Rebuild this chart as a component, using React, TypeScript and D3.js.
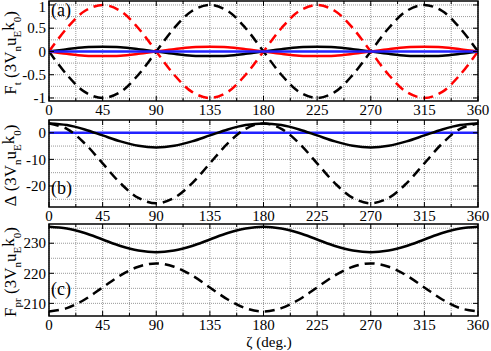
import React from "react";
import * as d3 from "d3";

const zeta = [0, 15, 30, 45, 60, 75, 90, 105, 120, 135, 150, 165, 180, 195, 210, 225, 240, 255, 270, 285, 300, 315, 330, 345, 360];

// Panel (a)
const aRedDashed = [0, 0.5, 0.87, 1, 0.87, 0.5, 0, -0.5, -0.87, -1, -0.87, -0.5, 0, 0.5, 0.87, 1, 0.87, 0.5, 0, -0.5, -0.87, -1, -0.87, -0.5, 0];
const aBlackDashed = [0, -0.5, -0.87, -1, -0.87, -0.5, 0, 0.5, 0.87, 1, 0.87, 0.5, 0, -0.5, -0.87, -1, -0.87, -0.5, 0, 0.5, 0.87, 1, 0.87, 0.5, 0];
const aBlackSolid = [0, 0.05, 0.09, 0.1, 0.09, 0.05, 0, -0.05, -0.09, -0.1, -0.09, -0.05, 0, 0.05, 0.09, 0.1, 0.09, 0.05, 0, -0.05, -0.09, -0.1, -0.09, -0.05, 0];
const aRedSolid = [0, -0.05, -0.09, -0.1, -0.09, -0.05, 0, 0.05, 0.09, 0.1, 0.09, 0.05, 0, -0.05, -0.09, -0.1, -0.09, -0.05, 0, 0.05, 0.09, 0.1, 0.09, 0.05, 0];
const aBlue = [0, 0, 0, 0, 0, 0, 0, 0, 0, 0, 0, 0, 0, 0, 0, 0, 0, 0, 0, 0, 0, 0, 0, 0, 0];

// Panel (b)
const bSolid = [3.5, 2.9, 1.25, -1, -3.25, -4.9, -5.5, -4.9, -3.25, -1, 1.25, 2.9, 3.5, 2.9, 1.25, -1, -3.25, -4.9, -5.5, -4.9, -3.25, -1, 1.25, 2.9, 3.5];
const bDashed = [3.5, 1.5, -4, -11.5, -19, -24.5, -26.5, -24.5, -19, -11.5, -4, 1.5, 3.5, 1.5, -4, -11.5, -19, -24.5, -26.5, -24.5, -19, -11.5, -4, 1.5, 3.5];
const bBlue = [0, 0, 0, 0, 0, 0, 0, 0, 0, 0, 0, 0, 0, 0, 0, 0, 0, 0, 0, 0, 0, 0, 0, 0, 0];

// Panel (c)
const cSolid = [235.5, 234.9, 233.4, 231.25, 229.1, 227.6, 227, 227.6, 229.1, 231.25, 233.4, 234.9, 235.5, 234.9, 233.4, 231.25, 229.1, 227.6, 227, 227.6, 229.1, 231.25, 233.4, 234.9, 235.5];
const cDashed = [207.3, 208.4, 211.3, 215.3, 219.3, 222.2, 223.3, 222.2, 219.3, 215.3, 211.3, 208.4, 207.3, 208.4, 211.3, 215.3, 219.3, 222.2, 223.3, 222.2, 219.3, 215.3, 211.3, 208.4, 207.3];

const xTicks = [0, 45, 90, 135, 180, 225, 270, 315, 360];
const xMinor = [22.5, 67.5, 112.5, 157.5, 202.5, 247.5, 292.5, 337.5];
const aTicks = [-1, -0.5, 0, 0.5, 1];
const aTickLabels = ["-1", "-0.5", "0", "0.5", "1"];
const aGrid = [-1, -0.75, -0.5, -0.25, 0, 0.25, 0.5, 0.75, 1];
const bTicks = [-20, -10, 0];
const bTickLabels = ["-20", "-10", "0"];
const bGrid = [-25, -20, -15, -10, -5, 0];
const cTicks = [210, 220, 230];
const cTickLabels = ["210", "220", "230"];
const cGrid = [210, 215, 220, 225, 230, 235];

const FONT = "Liberation Serif";
const fs = (n: number): React.CSSProperties => ({ fontFamily: FONT, fontSize: n });
const L = 49, R = 478;
const x = d3.scaleLinear().domain([0, 360]).range([L, R]);

type Series = { values: number[]; color: string; dashed: boolean };

function Panel(props: {
  top: number; bottom: number; domain: [number, number];
  ticks: number[]; tickLabels: string[]; grid: number[];
  series: Series[]; tag: string; tagY: number; ylabel: React.ReactNode;
}) {
  const { top, bottom, domain, ticks, tickLabels, grid, series, tag, tagY, ylabel } = props;
  const y = d3.scaleLinear().domain(domain).range([bottom, top]);
  const line = (vals: number[]) =>
    d3.line<number>().x((_, i) => x(zeta[i])).y((v) => y(v)).curve(d3.curveCatmullRom.alpha(0.5))(vals) || "";
  const clipId = "clip" + tag.replace(/[()]/g, "");
  return (
    <g>
      <defs>
        <clipPath id={clipId}>
          <rect x={L} y={top} width={R - L} height={bottom - top} />
        </clipPath>
      </defs>
      {[...xTicks, ...xMinor].map((t) => (
        <line key={"gx" + t} x1={x(t)} x2={x(t)} y1={top} y2={bottom} stroke="#999" strokeWidth={1} strokeDasharray="1,1" />
      ))}
      {grid.map((t) => (
        <line key={"gy" + t} x1={L} x2={R} y1={y(t)} y2={y(t)} stroke="#999" strokeWidth={1} strokeDasharray="1,1" />
      ))}
      <g clipPath={`url(#${clipId})`}>
        {series.map((s, i) => (
          <path key={i} d={line(s.values)} fill="none" stroke={s.color} strokeWidth={2.5}
            strokeDasharray={s.dashed ? "10,6" : undefined} />
        ))}
      </g>
      {xTicks.map((t) => (
        <g key={"tx" + t}>
          <line x1={x(t)} x2={x(t)} y1={bottom} y2={bottom - 5} stroke="#000" />
          <line x1={x(t)} x2={x(t)} y1={top} y2={top + 5} stroke="#000" />
        </g>
      ))}
      {xMinor.map((t) => (
        <g key={"mx" + t}>
          <line x1={x(t)} x2={x(t)} y1={bottom} y2={bottom - 3} stroke="#000" />
          <line x1={x(t)} x2={x(t)} y1={top} y2={top + 3} stroke="#000" />
        </g>
      ))}
      {ticks.map((t) => (
        <g key={"ty" + t}>
          <line x1={L} x2={L + 5} y1={y(t)} y2={y(t)} stroke="#000" />
          <line x1={R} x2={R - 5} y1={y(t)} y2={y(t)} stroke="#000" />
        </g>
      ))}
      <rect x={L} y={top} width={R - L} height={bottom - top} fill="none" stroke="#000" strokeWidth={1.5} />
      {xTicks.map((t) => (
        <text key={"lx" + t} x={x(t)} y={bottom + 14} textAnchor="middle" style={fs(15)}>{t}</text>
      ))}
      {ticks.map((t, i) => (
        <text key={"ly" + t} x={L - 3} y={Math.max(y(t), 7)} dy="0.35em" textAnchor="end" style={fs(15)}>{tickLabels[i]}</text>
      ))}
      <text x={L + 2} y={tagY} style={fs(18)}>{tag}</text>
      <text transform={`translate(16,${(top + bottom) / 2 + 2}) rotate(-90)`} textAnchor="middle" style={fs(17)}>
        {ylabel}
      </text>
    </g>
  );
}

const unit = (
  <>
    <tspan>(3V</tspan>
    <tspan dy={5} style={{ fontSize: 11 }}>n</tspan>
    <tspan dy={-5}>u</tspan>
    <tspan dy={5} style={{ fontSize: 11 }}>E</tspan>
    <tspan dy={-7}>k</tspan>
    <tspan dy={7} style={{ fontSize: 11 }}>0</tspan>
    <tspan dy={-5}>)</tspan>
  </>
);

export default function App() {
  return (
    <svg width={491} height={351} style={{ position: "absolute", left: 0, top: 0, background: "#fff" }}>
      <rect x={0} y={0} width={491} height={351} fill="#fff" />
      <Panel top={1} bottom={101} domain={[-1.065, 1.085]} ticks={aTicks} tickLabels={aTickLabels} grid={aGrid}
        tag="(a)" tagY={16}
        series={[
          { values: aRedDashed, color: "#ff0000", dashed: true },
          { values: aBlackDashed, color: "#000", dashed: true },
          { values: aBlackSolid, color: "#000", dashed: false },
          { values: aRedSolid, color: "#ff0000", dashed: false },
          { values: aBlue, color: "#2222ff", dashed: false },
        ]}
        ylabel={<><tspan>F</tspan><tspan dy={5} style={{ fontSize: 11 }}>t</tspan><tspan dy={-5}>{"\u00a0"}</tspan>{unit}</>}
      />
      <Panel top={120} bottom={207} domain={[-27.9, 4.8]} ticks={bTicks} tickLabels={bTickLabels} grid={bGrid}
        tag="(b)" tagY={194}
        series={[
          { values: bBlue, color: "#2222ff", dashed: false },
          { values: bDashed, color: "#000", dashed: true },
          { values: bSolid, color: "#000", dashed: false },
        ]}
        ylabel={<><tspan>{"Δ\u00a0"}</tspan>{unit}</>}
      />
      <Panel top={224} bottom={316} domain={[205.8, 236.4]} ticks={cTicks} tickLabels={cTickLabels} grid={cGrid}
        tag="(c)" tagY={295}
        series={[
          { values: cSolid, color: "#000", dashed: false },
          { values: cDashed, color: "#000", dashed: true },
        ]}
        ylabel={<><tspan>F</tspan><tspan dy={5} style={{ fontSize: 11 }}>pr</tspan><tspan dy={-5}>{"\u00a0"}</tspan>{unit}</>}
      />
      <text x={269} y={347} textAnchor="middle" style={fs(15)}>ζ (deg.)</text>
    </svg>
  );
}
